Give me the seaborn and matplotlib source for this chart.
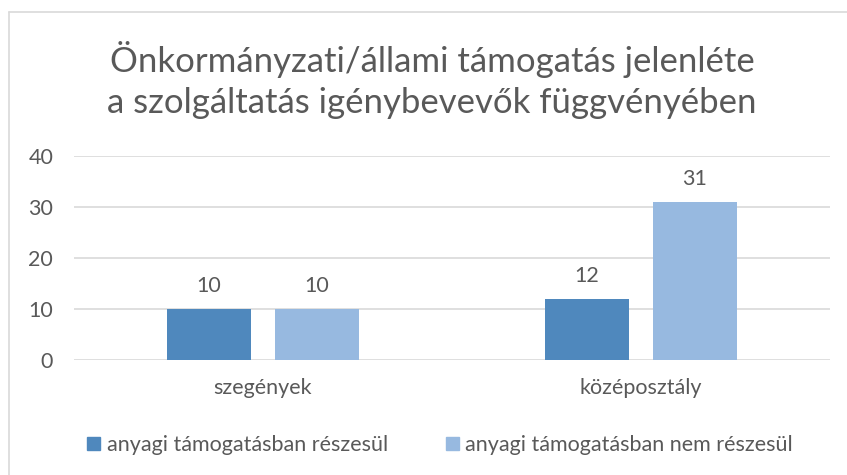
import matplotlib
matplotlib.use("Agg")
import matplotlib.pyplot as plt
import seaborn as sns
import pandas as pd
from matplotlib.lines import Line2D
from matplotlib.patches import Rectangle

categories = ["szegények", "középosztály"]
series_names = ["anyagi támogatásban részesül", "anyagi támogatásban nem részesül"]
values_receives = [10, 12]
values_not_receives = [10, 31]
yticks = [0, 10, 20, 30, 40]
title = "Önkormányzati/állami támogatás jelenléte\na szolgáltatás igénybevevők függvényében"

colors = ["#4F88BD", "#97B9E0"]
text_color = "#595959"
grid_color = "#D9D9D9"

df = pd.DataFrame({
    "cat": categories * 2,
    "series": [series_names[0]] * 2 + [series_names[1]] * 2,
    "value": values_receives + values_not_receives,
})

sns.set_theme(style="white")
plt.rcParams["font.family"] = ["Lato", "DejaVu Sans"]

fig = plt.figure(figsize=(8.47, 4.75), dpi=100)
ax = fig.add_axes([74/847, 1-360/475, (830-74)/847, (360-156)/475])

sns.barplot(data=df, x="cat", y="value", hue="series", order=categories,
            hue_order=series_names, palette=colors, width=0.571, gap=0.222,
            saturation=1, ax=ax, legend=False, linewidth=0)

ax.set_ylim(0, 40)
ax.set_xlim(-0.5, 1.5)
ax.set_yticks(yticks)
ax.set_yticklabels([str(t) for t in yticks], fontsize=15.5, color=text_color)
ax.tick_params(axis="y", length=0, pad=15)
ax.tick_params(axis="x", length=0, pad=13, labelsize=15.5, labelcolor=text_color)
ax.set_xlabel("")
ax.set_ylabel("")
for s in ax.spines.values():
    s.set_visible(False)
ax.yaxis.grid(True, color=grid_color, linewidth=1.2)
ax.set_axisbelow(True)

for cont in ax.containers:
    ax.bar_label(cont, fmt="%d", padding=9, fontsize=15.5, color=text_color)

fig.text(432/847, 1-80/475, title, ha="center", va="center", fontsize=25,
         color=text_color, linespacing=1.36)

# legend
handles = [Rectangle((0, 0), 1, 1, color=c) for c in colors]
fig.legend(handles, series_names, loc="center", bbox_to_anchor=(440/847, 1-445/475),
           ncol=2, frameon=False, fontsize=15.5, labelcolor=text_color,
           handlelength=0.6, handleheight=0.6, handletextpad=0.3, columnspacing=2.7)

# chart frame (top and left edges visible)
fig.add_artist(Line2D([9/847, 9/847], [0, 1-12/475], transform=fig.transFigure,
                      color=grid_color, linewidth=1.2))
fig.add_artist(Line2D([9/847, 1], [1-12/475, 1-12/475], transform=fig.transFigure,
                      color=grid_color, linewidth=1.2))

fig.savefig("out.png", dpi=100)
